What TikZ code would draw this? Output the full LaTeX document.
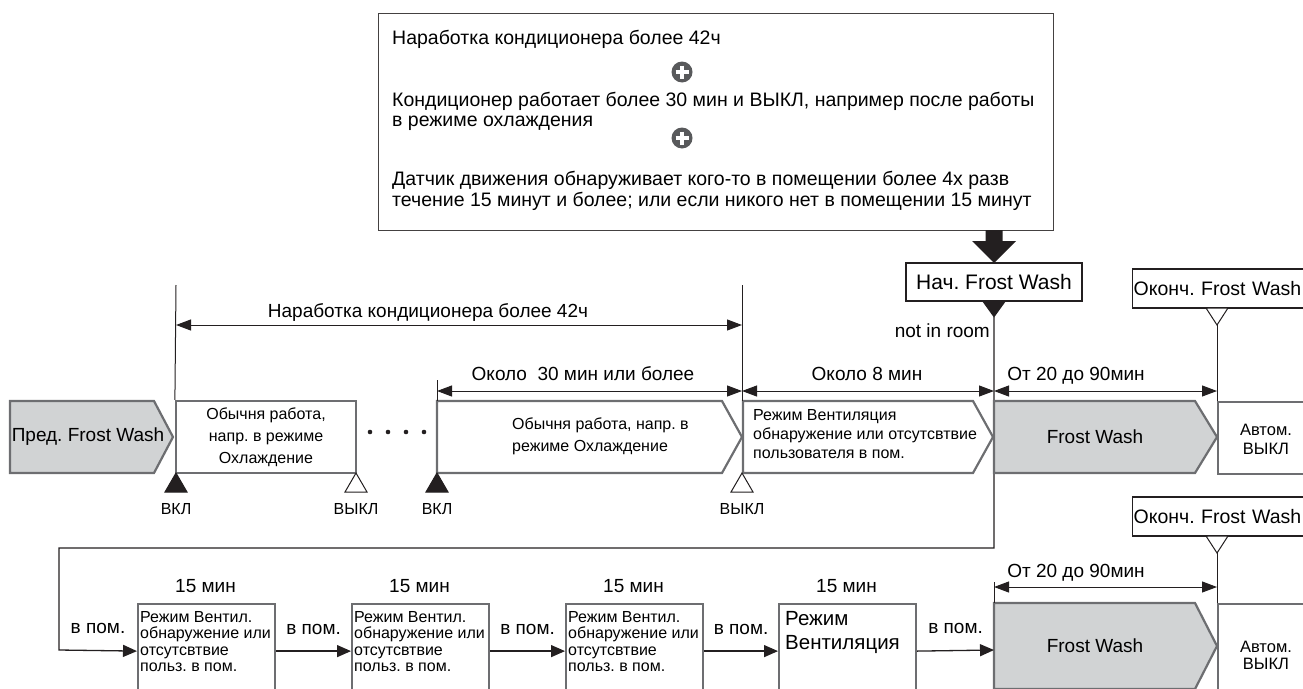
\documentclass[tikz,border=0pt]{standalone}
\usepackage{fontspec}
\setmainfont{Liberation Sans}
\usetikzlibrary{arrows.meta,backgrounds}
\definecolor{boxgray}{HTML}{6D6E71}
\definecolor{fwgray}{HTML}{D1D3D4}
\definecolor{inkdark}{HTML}{231F20}
\definecolor{plusgray}{HTML}{58595B}
\newcommand\fsz[2]{\fontsize{#1pt}{#2pt}\selectfont}
\frenchspacing

\begin{document}
\begin{tikzpicture}[x=1pt,y=-1pt,
  box/.style={draw=boxgray,line width=2.2pt,inner sep=0pt},
  tag/.style={draw=inkdark,line width=1.2pt,inner sep=1pt},
  guide/.style={draw=inkdark,line width=1pt},
  dim/.style={guide,{Triangle[length=15pt,width=11pt]}-{Triangle[length=15pt,width=11pt]}},
  flow/.style={guide,line width=1.3pt,-{Triangle[length=14pt,width=12pt]}},
  lbl/.style={inner sep=0pt,font=\fsz{19}{21}},
  cond/.style={inner sep=0pt,font=\fsz{19.5}{21},anchor=base west},
  small/.style={inner sep=0pt,font=\fsz{16}{22}},
  plus/.style={circle,fill=plusgray,minimum size=21pt,inner sep=0pt}]

\clip (0,0) rectangle (1303,688);

% conditions
\node[draw=inkdark!85,line width=1.2pt,minimum width=675pt,minimum height=217pt,
  inner sep=0pt,anchor=north west] (cond) at (378,13) {};
\node[cond] (c1) at (392,44) {Наработка кондиционера более 42ч};
\node[plus] (p1) at (682,72) {};
\node[cond] (c2) at (392,106) {Кондиционер работает более 30 мин и ВЫКЛ, например после работы};
\node[cond] (c3) at (392,126) {в режиме охлаждения};
\node[plus] (p2) at (682,138) {};
\node[cond] (c4) at (392,185) {Датчик движения обнаруживает кого-то в помещении более 4х разв};
\node[cond] (c5) at (392,206) {течение 15 минут и более; или если никого нет в помещении 15 минут};
\foreach \p in {p1,p2}
  \draw[white,line width=3.6pt] (\p.center) ++(-6.5,0) -- ++(13,0) (\p.center) ++(0,-6.5) -- ++(0,13);

\fill[inkdark] (985.5,230) -- (1002.5,230) -- (1002.5,241) -- (1016,241) -- (994,263)
  -- (972,241) -- (985.5,241) -- cycle;

% start / end tags
\node[tag,minimum width=176pt,minimum height=38pt,font=\fsz{21}{24}] (start) at (994,282) {Нач. Frost Wash};
\fill[inkdark] (start.south) ++(-11.5,0) -- ++(23,0) -- ++(-11.5,16) -- cycle;
\coordinate (fwstart) at (994,317);
\node[lbl,anchor=base east] (notin) at (990,337) {not in room};

\node[tag,anchor=west,text width=200pt,align=left,minimum height=39pt,font=\fsz{19.5}{23}] (end1) at (1132,288.5) {Оконч. Frost Wash};
\node[tag,anchor=west,text width=200pt,align=left,minimum height=39pt,font=\fsz{19.5}{23}] (end2) at (1132,516.5) {Оконч. Frost Wash};
\coordinate (endmark1) at (1217,325);
\coordinate (endmark2) at (1217,553);
\foreach \m in {endmark1,endmark2}
  \draw[guide,fill=white] (\m) -- ++(-11,-17) -- ++(22,0) -- cycle;

% first row
\draw[box,fill=fwgray] (10,401) -- (154,401) -- (173,437) -- (154,473) -- (10,473) -- cycle;
\node[lbl] (prev) at (88,437) {Пред. Frost Wash};
\node[box,minimum width=180pt,minimum height=72pt,align=center,font=\fsz{16}{22}] (work1) at (266,437) {Обычня работа,\\напр. в режиме\\Охлаждение};
\foreach \x in {370,388,406,424}
  \fill[inkdark] (\x,432) circle (2.3pt);
\draw[box] (437,401) -- (722,401) -- (742,437) -- (722,473) -- (437,473) -- cycle;
\node[small,anchor=west,align=left] (work2) at (512,436) {Обычня работа, напр. в\\режиме Охлаждение};
\draw[box] (743,401) -- (973,401) -- (993,437) -- (973,473) -- (743,473) -- cycle;
\node[small,anchor=west,align=left,font=\fsz{16}{19}] (fan) at (753,434) {Режим Вентиляция\\обнаружение или отсутсвтвие\\пользователя в пом.};
\draw[box,fill=fwgray] (994,401) -- (1195,401) -- (1217,437) -- (1195,473) -- (994,473) -- cycle;
\node[lbl] (fw1) at (1095,437) {Frost Wash};
\node[box,anchor=north west,minimum width=110pt,minimum height=72pt] (off1) at (1217,401) {};
\node[small,align=center,font=\fsz{16.5}{19}] (off1t) at (1266,439) {Автом.\\ВЫКЛ};

\foreach \x/\f/\t [count=\i] in {176/inkdark/ВКЛ,356/white/ВЫКЛ,437/inkdark/ВКЛ,742/white/ВЫКЛ}{
  \draw[guide,fill=\f] (\x,473) -- ++(11,19) -- ++(-22,0) -- cycle;
  \node[small,anchor=base] (sw\i) at (\x,514) {\t};
}

% time spans
\coordinate (g0) at (176,285); \coordinate (g1) at (742,285); \coordinate (g2) at (437,380);
\draw[guide] (g0) -- (work1.north west);
\draw[guide] (g1) -- (742,401);
\draw[guide] (g2) -- (437,401);
\draw[guide] (endmark1) -- (off1.north west);
\coordinate (d0a) at (176,325); \coordinate (d0b) at (742,325);
\coordinate (d1a) at (437,391); \coordinate (d1b) at (742,391);
\coordinate (d2a) at (742,391); \coordinate (d2b) at (994,391);
\coordinate (d3a) at (994,391); \coordinate (d3b) at (1217,391);
\draw[dim] (d0a) -- (d0b);
\draw[dim] (d1a) -- (d1b);
\draw[dim] (d2a) -- (d2b);
\draw[dim] (d3a) -- (d3b);
\node[lbl,anchor=base] (t0) at (428,317) {Наработка кондиционера более 42ч};
\node[lbl,anchor=base] (t1) at (583,380) {Около\ \ 30 мин или более};
\node[lbl,anchor=base] (t2) at (867,380) {Около 8 мин};
\node[lbl,anchor=base] (t3) at (1076,380) {От 20 до 90мин};

% second row
\foreach \x [count=\i] in {137,351,565,778}{
  \node[box,anchor=north west,minimum width=137pt,minimum height=94pt] (b\i) at (\x,603) {};
  \node[lbl,anchor=base] (min\i) at (\x+68.5,592) {15 мин};
}
\foreach \i in {1,2,3}
  \node[anchor=north west,inner sep=0pt,align=left,font=\fsz{16}{16.5}] (bt\i) at ([xshift=3pt,yshift=-8pt]b\i.north west) {Режим Вентил.\\обнаружение или\\отсутсвтвие\\польз. в пом.};
\node[anchor=north west,inner sep=0pt,align=left,font=\fsz{20.5}{24}] (bt4) at ([xshift=7pt,yshift=-8pt]b4.north west) {Режим\\Вентиляция};

\draw[box,fill=fwgray] (994,603) -- (1195,603) -- (1217,646) -- (1195,689) -- (994,689) -- cycle;
\node[lbl] (fw2) at (1095,646) {Frost Wash};
\coordinate (fw2in) at (994,650);
\node[box,anchor=north west,minimum width=110pt,minimum height=94pt] (off2) at (1217,603) {};
\node[small,align=center,font=\fsz{16.5}{17}] (off2t) at (1266,655) {Автом.\\ВЫКЛ};

% loop down to the second row
\coordinate (split) at (994,548);
\coordinate (turn) at (59,650);
\begin{scope}[on background layer]
\draw[flow] (fwstart) -- (split) -| (turn) -- node[lbl,yshift=22pt] (in0) {в пом.} (b1.west);
\end{scope}

\foreach \a/\b in {b1/b2,b2/b3,b3/b4,b4/fw2in}
  \draw[flow] (\a.east) -- node[lbl,yshift=22pt] (in-\a) {в пом.} (\b);

\coordinate (d4a) at (994,587); \coordinate (d4b) at (1217,587);
\draw[guide] (994,582) -- (fw2in |- off2.north);
\draw[guide] (endmark2) -- (off2.north west);
\draw[dim] (d4a) -- (d4b);
\node[lbl,anchor=base] (t4) at (1076,577) {От 20 до 90мин};

\end{tikzpicture}
\end{document}
